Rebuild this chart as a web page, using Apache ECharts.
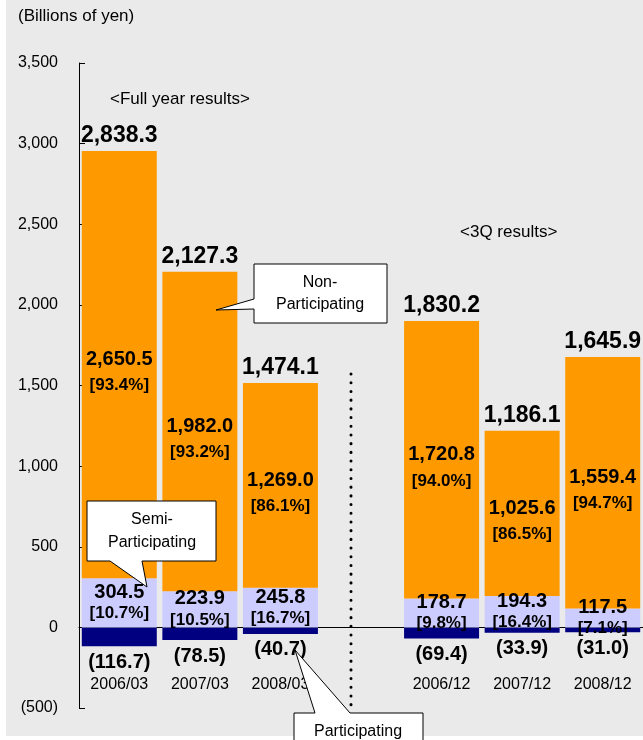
<!DOCTYPE html>
<html>
<head>
<meta charset="utf-8">
<script src="https://cdn.jsdelivr.net/npm/echarts@6/dist/echarts.min.js"></script>
<style>
  body { margin: 0; background: #fff; }
  #panel { position: absolute; left: 6px; top: 0; width: 637px; height: 736px; background: #eaeaea; }
  #chart { position: absolute; left: 0; top: 0; width: 643px; height: 740px; }
</style>
</head>
<body>
<div id="panel"></div>
<div id="chart"></div>
<script>
// 数据
var categories = ['2006/03', '2007/03', '2008/03', '', '2006/12', '2007/12', '2008/12'];
var nonPart = [2650.5, 1982.0, 1269.0, null, 1720.8, 1025.6, 1559.4];
var nonPct = ['93.4', '93.2', '86.1', null, '94.0', '86.5', '94.7'];
var semiPart = [304.5, 223.9, 245.8, null, 178.7, 194.3, 117.5];
var semiPct = ['10.7', '10.5', '16.7', null, '9.8', '16.4', '7.1'];
var part = [-116.7, -78.5, -40.7, null, -69.4, -33.9, -31.0];
var totals = [2838.3, 2127.3, 1474.1, null, 1830.2, 1186.1, 1645.9];

var FONT = '"Liberation Sans", Arial, sans-serif';

function fmt(v, d) {
  var s = v.toFixed(d);
  var p = s.split('.');
  p[0] = p[0].replace(/\B(?=(\d{3})+(?!\d))/g, ',');
  return p.join('.');
}
function toData(arr) {
  return arr.map(function (v) { return v == null ? '-' : v; });
}

var chart = echarts.init(document.getElementById('chart'));

chart.setOption({
  animation: false,
  textStyle: { fontFamily: FONT, color: '#000' },
  grid: { left: 79, right: 0, top: 63, bottom: 32, containLabel: false, outerBoundsMode: 'none' },
  xAxis: [
    {
      // 零线上的轴线和刻度
      type: 'category',
      data: categories,
      axisLine: { onZero: true, lineStyle: { color: '#000', width: 1 } },
      axisTick: { inside: true, length: 5, interval: 0, lineStyle: { color: '#000' } },
      axisLabel: { show: false },
      splitLine: { show: false }
    },
    {
      // 只用来放类目标签
      type: 'category',
      data: categories,
      position: 'bottom',
      axisLine: { show: false, onZero: false },
      axisTick: { show: false },
      axisLabel: { margin: -31, fontSize: 16, color: '#000', fontFamily: FONT, interval: 0 },
      splitLine: { show: false }
    }
  ],
  yAxis: {
    type: 'value',
    min: -500,
    max: 3500,
    interval: 500,
    axisLine: { show: true, lineStyle: { color: '#000', width: 1 } },
    axisTick: { show: true, inside: true, length: 6, lineStyle: { color: '#000' } },
    axisLabel: {
      margin: 21, fontSize: 16, color: '#000', fontFamily: FONT,
      formatter: function (v) { return v < 0 ? '(' + fmt(-v, 0) + ')' : fmt(v, 0); }
    },
    splitLine: { show: false }
  },
  series: [
    {
      name: 'Participating',
      type: 'bar',
      stack: 'total',
      barWidth: 75,
      data: toData(part),
      itemStyle: { color: '#000080' },
      label: {
        show: true, position: 'bottom', distance: 6,
        fontSize: 20, fontWeight: 'bold', color: '#000', fontFamily: FONT,
        formatter: function (p) { return '(' + fmt(-p.value, 1) + ')'; }
      }
    },
    {
      name: 'Semi-Participating',
      type: 'bar',
      stack: 'total',
      barWidth: 75,
      data: toData(semiPart),
      itemStyle: { color: '#ccccff' },
      label: {
        show: true, position: 'inside',
        formatter: function (p) {
          return '{a|' + fmt(p.value, 1) + '}\n{b|[' + semiPct[p.dataIndex] + '%]}';
        },
        rich: {
          a: { fontSize: 20, fontWeight: 'bold', color: '#000', fontFamily: FONT, lineHeight: 21 },
          b: { fontSize: 17, fontWeight: 'bold', color: '#000', fontFamily: FONT, lineHeight: 21 }
        }
      }
    },
    {
      name: 'Non-Participating',
      type: 'bar',
      stack: 'total',
      barWidth: 75,
      data: toData(nonPart),
      itemStyle: { color: '#ff9900' },
      label: {
        show: true, position: 'inside', offset: [0, 8],
        formatter: function (p) {
          return '{a|' + fmt(p.value, 1) + '}\n{b|[' + nonPct[p.dataIndex] + '%]}';
        },
        rich: {
          a: { fontSize: 20, fontWeight: 'bold', color: '#000', fontFamily: FONT, lineHeight: 26 },
          b: { fontSize: 17, fontWeight: 'bold', color: '#000', fontFamily: FONT, lineHeight: 26 }
        }
      }
    },
    {
      // 合计标签放在柱顶
      name: 'Total',
      type: 'scatter',
      symbolSize: 0,
      silent: true,
      itemStyle: { opacity: 1 },
      data: nonPart.map(function (v, i) { return v == null ? '-' : v + semiPart[i]; }),
      label: {
        show: true, position: 'top', distance: 4,
        fontSize: 23, fontWeight: 'bold', color: '#000', fontFamily: FONT,
        formatter: function (p) { return fmt(totals[p.dataIndex], 1); }
      }
    }
  ],
  graphic: [
    { type: 'text', left: 18, top: 8, style: { text: '(Billions of yen)', font: '17px ' + FONT, fill: '#000' } },
    { type: 'text', left: 110, top: 91, style: { text: '<Full year results>', font: '17px ' + FONT, fill: '#000' } },
    { type: 'text', left: 460, top: 224, style: { text: '<3Q results>', font: '17px ' + FONT, fill: '#000' } },
    // 虚线分隔
    {
      type: 'line', z: 5,
      shape: { x1: 351, y1: 374, x2: 351, y2: 712 },
      style: { stroke: '#000', lineWidth: 3, lineDash: [0.1, 8.6], lineCap: 'round' }
    },
    // Non-Participating 标注
    {
      type: 'polygon', z: 10,
      shape: { points: [[254, 264], [387, 264], [387, 323], [254, 323], [254, 309], [216, 310], [254, 299]] },
      style: { fill: '#fff', stroke: '#000', lineWidth: 1 }
    },
    {
      type: 'text', z: 11, x: 320, y: 294,
      style: { text: 'Non-\nParticipating', font: '16px ' + FONT, fill: '#000', align: 'center', verticalAlign: 'middle', lineHeight: 22 }
    },
    // Semi-Participating 标注
    {
      type: 'polygon', z: 10,
      shape: { points: [[87, 501], [216, 501], [216, 561], [142, 561], [147, 587], [110, 561], [87, 561]] },
      style: { fill: '#fff', stroke: '#000', lineWidth: 1 }
    },
    {
      type: 'text', z: 11, x: 152, y: 531,
      style: { text: 'Semi-\nParticipating', font: '16px ' + FONT, fill: '#000', align: 'center', verticalAlign: 'middle', lineHeight: 23 }
    },
    // Participating 标注
    {
      type: 'polygon', z: 10,
      shape: { points: [[294, 713], [315, 713], [295, 650], [350, 713], [423, 713], [423, 760], [294, 760]] },
      style: { fill: '#fff', stroke: '#000', lineWidth: 1 }
    },
    {
      type: 'text', z: 11, x: 358, y: 732,
      style: { text: 'Participating', font: '16px ' + FONT, fill: '#000', align: 'center', verticalAlign: 'middle' }
    }
  ]
});
</script>
</body>
</html>
